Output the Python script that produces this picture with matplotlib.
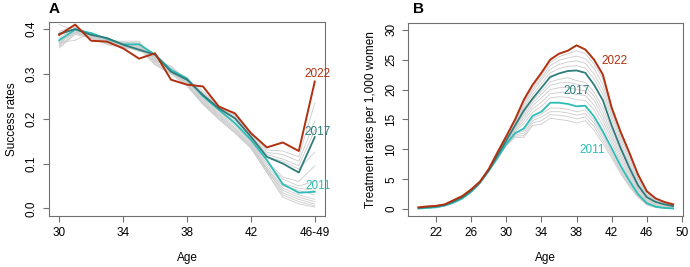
import matplotlib
matplotlib.use('Agg')
import matplotlib.pyplot as plt

plt.rcParams['font.family'] = ['Liberation Sans', 'DejaVu Sans']

# ---- Panel A: success rates by age (46 = "46-49") ----
ages_a = list(range(30, 47))
xt_a = [30, 34, 38, 42, 46]
xt_a_labels = ['30', '34', '38', '42', '46-49']

succ_2022 = [0.387, 0.410, 0.374, 0.372, 0.357, 0.334, 0.346, 0.287, 0.276, 0.272,
             0.227, 0.212, 0.168, 0.136, 0.147, 0.128, 0.283]
succ_2017 = [0.389, 0.400, 0.387, 0.380, 0.365, 0.354, 0.343, 0.305, 0.287, 0.253,
             0.223, 0.201, 0.160, 0.115, 0.100, 0.080, 0.159]
succ_2011 = [0.375, 0.399, 0.391, 0.378, 0.366, 0.366, 0.343, 0.309, 0.290, 0.250,
             0.220, 0.190, 0.153, 0.108, 0.054, 0.035, 0.037]

succ_grey = [
    [0.395, 0.405, 0.380, 0.376, 0.362, 0.350, 0.345, 0.300, 0.288, 0.262, 0.228, 0.208, 0.166, 0.130, 0.128, 0.115, 0.235],
    [0.392, 0.398, 0.384, 0.379, 0.368, 0.357, 0.340, 0.303, 0.285, 0.258, 0.226, 0.205, 0.163, 0.125, 0.120, 0.105, 0.195],
    [0.380, 0.403, 0.389, 0.377, 0.370, 0.360, 0.338, 0.310, 0.283, 0.255, 0.224, 0.203, 0.162, 0.120, 0.110, 0.095, 0.175],
    [0.386, 0.401, 0.382, 0.374, 0.364, 0.352, 0.341, 0.307, 0.289, 0.251, 0.221, 0.199, 0.158, 0.115, 0.105, 0.088, 0.125],
    [0.410, 0.396, 0.386, 0.372, 0.369, 0.371, 0.336, 0.312, 0.291, 0.248, 0.218, 0.195, 0.155, 0.105, 0.070, 0.060, 0.095],
    [0.370, 0.375, 0.393, 0.369, 0.371, 0.368, 0.330, 0.315, 0.286, 0.245, 0.215, 0.190, 0.150, 0.100, 0.065, 0.050, 0.060],
    [0.365, 0.402, 0.390, 0.373, 0.373, 0.373, 0.328, 0.318, 0.284, 0.243, 0.212, 0.185, 0.148, 0.095, 0.055, 0.045, 0.040],
    [0.378, 0.394, 0.385, 0.366, 0.367, 0.362, 0.335, 0.311, 0.280, 0.240, 0.210, 0.180, 0.145, 0.090, 0.050, 0.040, 0.030],
    [0.372, 0.392, 0.388, 0.370, 0.360, 0.366, 0.332, 0.308, 0.278, 0.238, 0.207, 0.178, 0.142, 0.088, 0.045, 0.030, 0.020],
    [0.368, 0.397, 0.381, 0.375, 0.358, 0.359, 0.327, 0.306, 0.279, 0.236, 0.205, 0.175, 0.140, 0.085, 0.040, 0.025, 0.015],
    [0.360, 0.390, 0.383, 0.368, 0.361, 0.363, 0.325, 0.304, 0.277, 0.235, 0.203, 0.172, 0.138, 0.085, 0.035, 0.020, 0.010],
    [0.363, 0.393, 0.379, 0.371, 0.356, 0.361, 0.322, 0.302, 0.275, 0.233, 0.200, 0.170, 0.136, 0.080, 0.030, 0.015, 0.006],
    [0.358, 0.388, 0.380, 0.365, 0.359, 0.356, 0.320, 0.300, 0.273, 0.232, 0.198, 0.168, 0.134, 0.080, 0.025, 0.010, 0.003],
]

# ---- Panel B: treatment rates per 1,000 women, ages 20-49 ----
ages_b = list(range(20, 50))
xt_b = [22, 26, 30, 34, 38, 42, 46, 50]

treat_2022 = [0.3, 0.45, 0.55, 0.8, 1.5, 2.2, 3.3, 4.6, 6.7, 9.5, 12.2, 15.0, 18.3, 20.8, 22.8,
              25.0, 26.0, 26.5, 27.4, 26.7, 25.0, 22.5, 17.0, 13.0, 9.5, 5.8, 3.0, 1.8, 1.2, 0.8]
treat_2017 = [0.2, 0.35, 0.45, 0.7, 1.3, 2.0, 3.1, 4.5, 6.5, 9.0, 11.5, 14.0, 16.5, 18.5, 20.3,
              22.1, 22.7, 23.1, 23.2, 22.8, 20.8, 18.2, 14.0, 10.3, 7.0, 4.0, 2.0, 1.2, 0.8, 0.5]
treat_2011 = [0.1, 0.2, 0.3, 0.6, 1.1, 1.8, 2.9, 4.4, 6.4, 8.6, 10.9, 12.7, 13.5, 15.6, 16.3,
              17.8, 17.8, 17.6, 17.2, 17.3, 15.5, 13.0, 10.2, 7.3, 4.8, 2.5, 1.0, 0.4, 0.2, 0.1]

treat_grey = [
    [0.1, 0.2, 0.3, 0.55, 1.0, 1.7, 2.8, 4.3, 6.3, 8.4, 10.6, 12.0, 12.0, 14.0, 14.2,
     15.2, 15.0, 14.8, 14.4, 14.8, 13.2, 11.0, 8.6, 6.0, 3.8, 2.0, 0.7, 0.3, 0.15, 0.1],
    [0.1, 0.2, 0.3, 0.55, 1.0, 1.7, 2.8, 4.3, 6.3, 8.5, 10.7, 12.2, 12.3, 14.4, 14.8,
     15.8, 15.7, 15.5, 15.1, 15.4, 13.8, 11.5, 9.0, 6.3, 4.0, 2.1, 0.8, 0.3, 0.15, 0.1],
    [0.1, 0.2, 0.3, 0.55, 1.05, 1.75, 2.85, 4.35, 6.35, 8.5, 10.8, 12.4, 12.7, 14.8, 15.4,
     16.3, 16.3, 16.1, 15.7, 16.0, 14.4, 12.0, 9.4, 6.6, 4.2, 2.2, 0.85, 0.35, 0.15, 0.1],
    [0.1, 0.2, 0.3, 0.6, 1.05, 1.75, 2.85, 4.35, 6.4, 8.6, 10.9, 12.6, 13.1, 15.2, 15.9,
     16.9, 16.9, 16.7, 16.3, 16.6, 14.9, 12.5, 9.8, 6.9, 4.5, 2.35, 0.9, 0.35, 0.2, 0.1],
    [0.15, 0.25, 0.35, 0.6, 1.1, 1.8, 2.9, 4.4, 6.4, 8.7, 11.0, 13.0, 14.3, 16.2, 17.2,
     18.6, 18.8, 18.7, 18.3, 18.2, 16.6, 14.0, 11.0, 7.9, 5.2, 2.8, 1.2, 0.5, 0.3, 0.2],
    [0.15, 0.25, 0.35, 0.6, 1.15, 1.85, 2.95, 4.4, 6.45, 8.75, 11.1, 13.2, 14.8, 16.8, 17.9,
     19.3, 19.5, 19.6, 19.2, 19.0, 17.4, 14.8, 11.6, 8.4, 5.6, 3.0, 1.3, 0.6, 0.35, 0.25],
    [0.15, 0.3, 0.4, 0.65, 1.2, 1.9, 3.0, 4.45, 6.45, 8.8, 11.2, 13.4, 15.3, 17.3, 18.6,
     20.0, 20.3, 20.4, 20.0, 19.8, 18.2, 15.5, 12.2, 8.9, 6.0, 3.3, 1.5, 0.7, 0.4, 0.3],
    [0.2, 0.3, 0.4, 0.65, 1.25, 1.95, 3.05, 4.5, 6.5, 8.85, 11.3, 13.6, 15.7, 17.8, 19.2,
     20.7, 21.1, 21.2, 20.9, 20.5, 18.9, 16.2, 12.8, 9.4, 6.3, 3.5, 1.6, 0.8, 0.5, 0.35],
    [0.2, 0.3, 0.45, 0.7, 1.25, 1.95, 3.05, 4.5, 6.5, 8.9, 11.4, 13.8, 16.1, 18.2, 19.7,
     21.3, 21.7, 22.0, 21.5, 21.2, 19.6, 17.0, 13.4, 9.9, 6.7, 3.8, 1.8, 0.9, 0.6, 0.4],
    [0.2, 0.35, 0.5, 0.75, 1.35, 2.05, 3.15, 4.5, 6.55, 9.1, 11.7, 14.3, 17.0, 19.1, 21.0,
     22.8, 23.5, 23.9, 24.0, 23.6, 21.8, 19.2, 15.0, 11.0, 7.6, 4.4, 2.2, 1.3, 0.85, 0.55],
    [0.25, 0.35, 0.5, 0.75, 1.4, 2.1, 3.2, 4.55, 6.6, 9.2, 11.8, 14.5, 17.4, 19.6, 21.6,
     23.4, 24.2, 24.6, 24.8, 24.4, 22.6, 20.0, 15.7, 11.6, 8.1, 4.8, 2.4, 1.4, 0.9, 0.6],
    [0.25, 0.4, 0.5, 0.8, 1.45, 2.15, 3.25, 4.55, 6.6, 9.3, 11.9, 14.7, 17.7, 20.0, 22.0,
     24.0, 24.9, 25.3, 25.6, 25.2, 23.5, 20.9, 16.2, 12.1, 8.6, 5.1, 2.6, 1.5, 1.0, 0.65],
    [0.3, 0.4, 0.55, 0.8, 1.45, 2.2, 3.3, 4.6, 6.65, 9.4, 12.0, 14.9, 18.0, 20.4, 22.4,
     24.5, 25.5, 26.0, 26.5, 26.0, 24.3, 21.8, 16.6, 12.6, 9.1, 5.5, 2.8, 1.7, 1.1, 0.7],
]

C22 = '#B0300F'
C17 = '#2F7C7C'
C11 = '#2DBDB6'
GREY = '#CBCBCB'
BOX = '#707070'
FS = 8.5


def style_axes(ax):
    for s in ax.spines.values():
        s.set_color(BOX)
        s.set_linewidth(0.8)
    ax.tick_params(axis='both', direction='out', length=4, width=0.8, color=BOX,
                   labelsize=FS, pad=4)
    for lab in ax.get_yticklabels():
        lab.set_rotation(90)
        lab.set_va('center')


fig = plt.figure(figsize=(6.9, 2.67), dpi=100)

# Panel A
ax = fig.add_axes([0.071, 0.191, 0.400, 0.727])
for g in succ_grey:
    ax.plot(ages_a, g, color=GREY, lw=0.6, zorder=1)
ax.plot(ages_a, succ_2011, color=C11, lw=1.3, zorder=3)
ax.plot(ages_a, succ_2017, color=C17, lw=1.3, zorder=3)
ax.plot(ages_a, succ_2022, color=C22, lw=1.4, zorder=4)
ax.text(46.2, 0.300, '2022', color=C22, fontsize=FS, ha='center', va='center')
ax.text(46.2, 0.171, '2017', color=C17, fontsize=FS, ha='center', va='center')
ax.text(46.2, 0.050, '2011', color=C11, fontsize=FS, ha='center', va='center')
ax.set_xlim(29.36, 46.64)
ax.set_ylim(-0.017, 0.416)
ax.set_xticks(xt_a)
ax.set_xticklabels(xt_a_labels)
ax.set_yticks([0.0, 0.1, 0.2, 0.3, 0.4])
ax.set_yticklabels(['0.0', '0.1', '0.2', '0.3', '0.4'])
ax.set_xlabel('Age', fontsize=FS, labelpad=9)
ax.set_ylabel('Success rates', fontsize=FS, labelpad=6)
style_axes(ax)
fig.text(0.071, 0.965, 'A', fontsize=11, fontweight='bold', ha='left', va='center')

# Panel B
bx = fig.add_axes([0.5917, 0.191, 0.3986, 0.722])
for g in treat_grey:
    bx.plot(ages_b, g, color=GREY, lw=0.6, zorder=1)
bx.plot(ages_b, treat_2011, color=C11, lw=1.3, zorder=3)
bx.plot(ages_b, treat_2017, color=C17, lw=1.3, zorder=3)
bx.plot(ages_b, treat_2022, color=C22, lw=1.4, zorder=4)
bx.text(42.3, 24.8, '2022', color=C22, fontsize=FS, ha='center', va='center')
bx.text(38.0, 19.8, '2017', color=C17, fontsize=FS, ha='center', va='center')
bx.text(39.8, 9.9, '2011', color=C11, fontsize=FS, ha='center', va='center')
bx.set_xlim(18.84, 50.16)
bx.set_ylim(-1.15, 31.1)
bx.set_xticks(xt_b)
bx.set_yticks([0, 5, 10, 15, 20, 25, 30])
bx.set_xlabel('Age', fontsize=FS, labelpad=9)
bx.set_ylabel('Treatment rates per 1,000 women', fontsize=FS, labelpad=6)
style_axes(bx)
fig.text(0.598, 0.965, 'B', fontsize=11, fontweight='bold', ha='left', va='center')

fig.savefig('out.png', dpi=100)
